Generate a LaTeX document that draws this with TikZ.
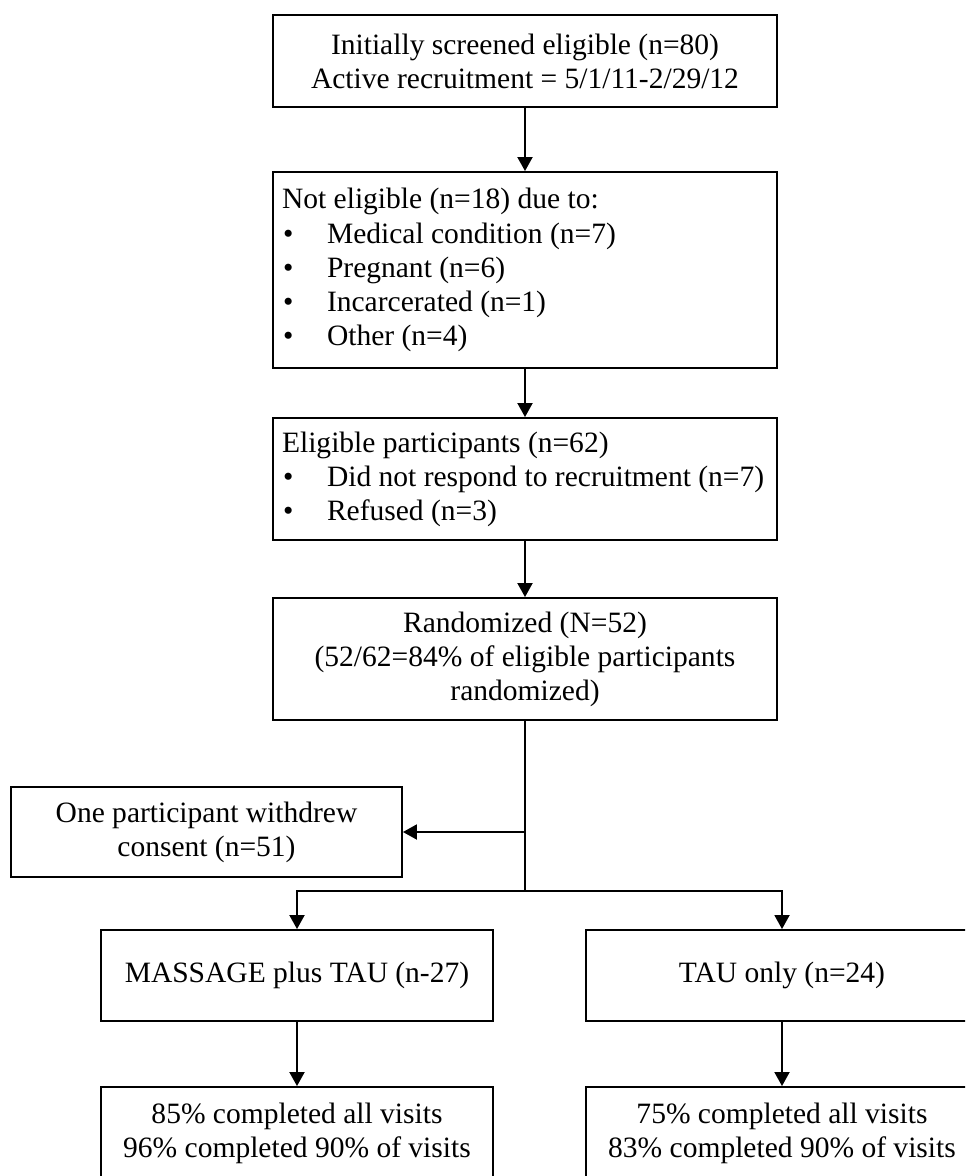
\documentclass[tikz,border=0pt]{standalone}
\usepackage{fontspec}
\setmainfont{Liberation Serif}
\usetikzlibrary{arrows.meta}
\newcommand{\bitem}[1]{\mbox{\hspace*{0.02cm}\makebox[0.88cm][l]{\textbullet}#1}}
\begin{document}
\begin{tikzpicture}[x=0.02cm,y=-0.02cm,
    box/.style={draw,line width=1.1pt,inner sep=0pt,align=center,
      font=\fontsize{16.8}{19.4}\selectfont},
    wide/.style={box,minimum width=10.08cm},
    list/.style={wide,text width=9.72cm,align=flush left},
    arm/.style={box,minimum width=7.84cm},
    link/.style={line width=1.1pt,-{Triangle[length=0.28cm,width=0.3cm]}}]
  \clip (0,0) rectangle (965,1176);
  \draw
    (525,61) node[wide,minimum height=1.84cm] (screened)
      {Initially screened eligible (n=80)\\Active recruitment = 5/1/11-2/29/12}
    (525,270) node[list,minimum height=3.92cm] (noteligible)
      {Not eligible (n=18) due to:\\\bitem{Medical condition (n=7)}\\\bitem{Pregnant (n=6)}\\
       \bitem{Incarcerated (n=1)}\\\bitem{Other (n=4)}}
    (525,479) node[list,minimum height=2.44cm] (eligible)
      {Eligible participants (n=62)\\\bitem{Did not respond to recruitment (n=7)}\\\bitem{Refused (n=3)}}
    (525,659) node[wide,minimum height=2.44cm] (randomized)
      {Randomized (N=52)\\(52/62=84\% of eligible participants\\randomized)}
    (206.5,832) node[box,minimum width=7.82cm,minimum height=1.8cm] (withdrew)
      {One participant withdrew\\consent (n=51)}
    (297,975.5) node[arm,minimum height=1.82cm] (massage) {MASSAGE plus TAU (n-27)}
    (782,975.5) node[arm,minimum height=1.82cm] (tau) {TAU only (n=24)}
    (297,1133.5) node[arm,minimum height=1.86cm] (massres)
      {85\% completed all visits\\96\% completed 90\% of visits}
    (782,1133.5) node[arm,minimum height=1.86cm] (taures)
      {75\% completed all visits\\83\% completed 90\% of visits};
  \coordinate (junc) at (525,832);
  \coordinate (split) at (525,891);
  \begin{scope}[link]
    \draw (screened) to (noteligible);
    \draw (noteligible) to (eligible);
    \draw (eligible) to (randomized);
    \draw[-] (randomized) to (split);
    \draw (junc) to (withdrew);
    \draw (split) -| (massage);
    \draw (split) -| (tau);
    \draw (massage) to (massres);
    \draw (tau) to (taures);
  \end{scope}
\end{tikzpicture}
\end{document}
